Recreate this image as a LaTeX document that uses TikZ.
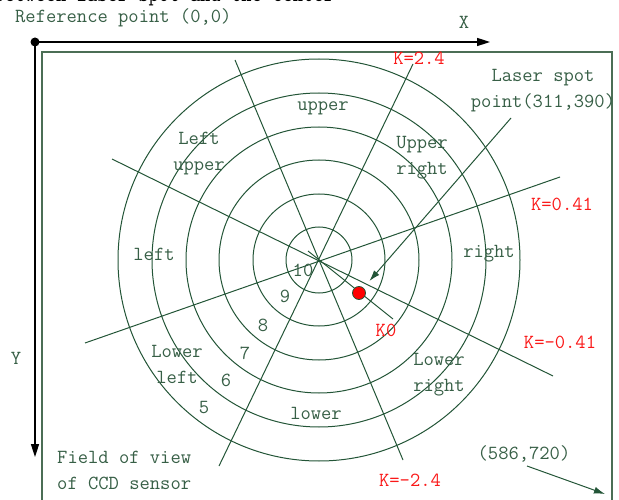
\documentclass[tikz,border=0pt]{standalone}
\usepackage{tikz}
\usetikzlibrary{arrows.meta,positioning}
\definecolor{ringgreen}{RGB}{35,85,55}
\definecolor{labgreen}{RGB}{55,95,70}
\definecolor{boxgreen}{RGB}{75,110,85}
\definecolor{kred}{RGB}{250,25,25}

\begin{document}
\begin{tikzpicture}[x=1pt,y=-1pt,
    lab/.style={font=\fontsize{20}{26}\selectfont\ttfamily,text=labgreen,inner sep=0pt,align=center},
    klab/.style={font=\fontsize{20}{26}\selectfont\ttfamily,text=kred,inner sep=0pt},
    ring/.style={ringgreen,line width=1pt},
    axis/.style={black,line width=1.6pt,-{Triangle[length=13pt,width=8pt]}},
    pointer/.style={ringgreen,line width=1pt,-{Latex[length=11pt,width=7pt]}}]
  \useasboundingbox (0,0) rectangle (619,500);
  % cut-off heading
  \node[font=\fontsize{20}{26}\selectfont\ttfamily,anchor=base west,inner sep=0pt] (head) at (-6,2) {between laser spot and the center};
  % axes from the reference point
  \node[circle,fill=black,inner sep=0pt,minimum size=9pt] (origin) at (35,42) {};
  \coordinate (xend) at (490,42);
  \coordinate (yend) at (35,457);
  \draw[axis] (origin.center) -- (xend);
  \draw[axis] (origin.center) -- (yend);
  \node[lab,anchor=west] (refpt) at (15,18) {Reference point (0,0)};
  \node[lab] (xlab) at (464,22) {X};
  \node[lab] (ylab) at (16,358) {Y};
  % field of view
  \draw[boxgreen,line width=1.6pt] (42,52) rectangle (612,520);
  % rings
  \coordinate (c) at (319,260);
  \foreach \r in {33,66,100,133,167,201}
    \draw[ring] (c) circle[radius=\r];
  % dividing lines
  \coordinate (kpa) at (413,64);  \coordinate (kpb) at (219,466);
  \coordinate (kma) at (235,60);  \coordinate (kmb) at (403,460);
  \coordinate (spa) at (85,343);  \coordinate (spb) at (560,177);
  \coordinate (sma) at (112,159); \coordinate (smb) at (553,376);
  \coordinate (kza) at (308,251); \coordinate (kzb) at (393,319);
  \foreach \a/\b in {kpa/kpb,kma/kmb,spa/spb,sma/smb,kza/kzb}
    \draw[ring] (\a) -- (\b);
  % slope labels
  \node[klab] (kp) at (419,58) {K=2.4};
  \node[klab] (km) at (410,480) {K=-2.4};
  \node[klab] (ksp) at (562,204) {K=0.41};
  \node[klab] (ksm) at (560,342) {K=-0.41};
  \node[klab] (kz) at (386,330) {K0};
  % sectors
  \node[lab] (up) at (323,108) {upper};
  \node[lab] (lu) at (199,154) {Left\\upper};
  \node[lab] (ur) at (422,158) {Upper\\right};
  \node[lab] (lf) at (154,254) {left};
  \node[lab] (rt) at (489,254) {right};
  \node[lab] (ll) at (177,364) {Lower\\left};
  \node[lab] (lr) at (439,375) {Lower\\right};
  \node[lab] (lw) at (316,413) {lower};
  % ring scores
  \foreach \s/\x/\y in {10/303/270,9/285/296,8/263/325,7/245/353,6/226/380,5/204/408}
    \node[lab] (score\s) at (\x,\y) {\s};
  % laser spot
  \node[circle,fill=red,draw=ringgreen,line width=0.8pt,inner sep=0pt,minimum size=13pt] (spot) at (359,293) {};
  \node[lab] (spotlab) at (543,91) {Laser spot\\point(311,390)};
  \coordinate (spottail) at (511,118);
  \draw[pointer,shorten >=9pt] (spottail) -- (spot);
  % far corner
  \node[lab] (corner) at (524,454) {(586,720)};
  \coordinate (cornertail) at (527,466);
  \coordinate (cornerpt) at (605,494);
  \draw[pointer] (cornertail) -- (cornerpt);
  \node[lab,align=left,anchor=west] (fov) at (57,470) {Field of view\\of CCD sensor};
\end{tikzpicture}
\end{document}
